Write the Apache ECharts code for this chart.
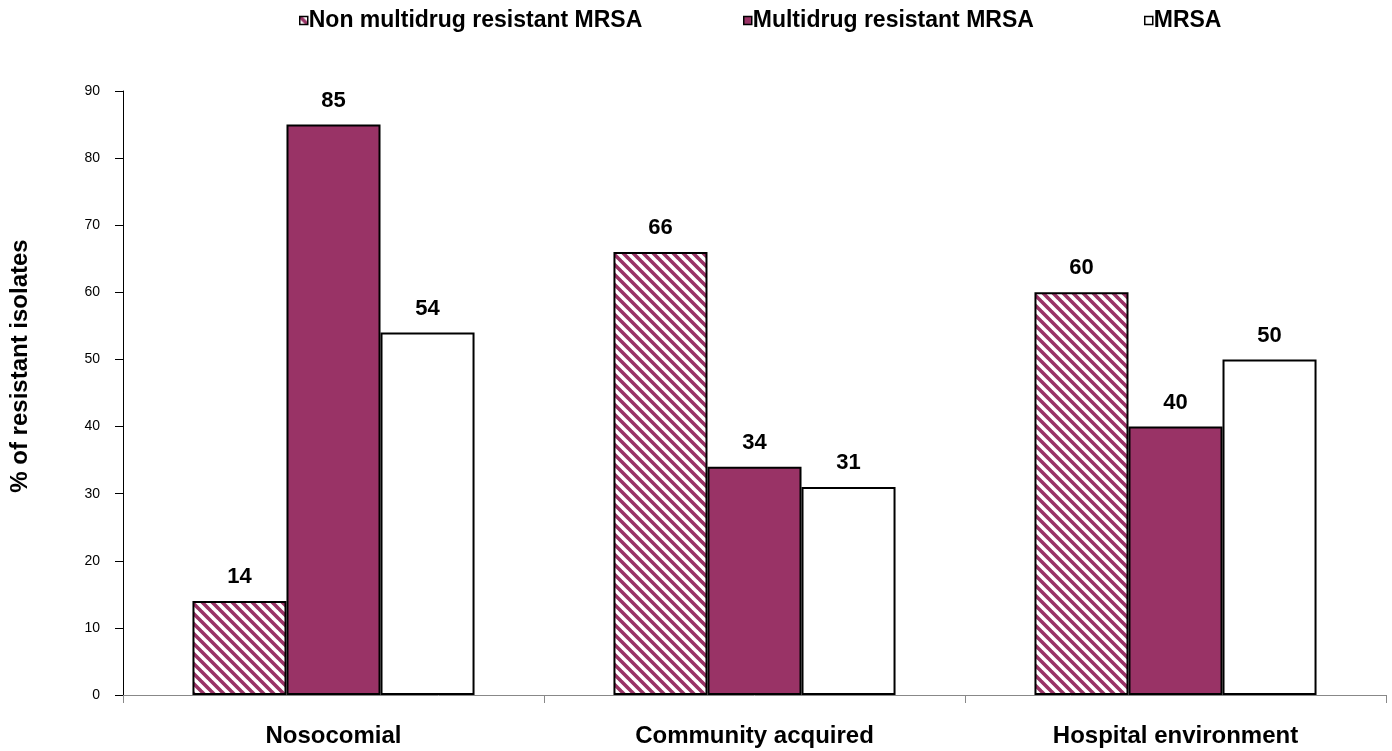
<!DOCTYPE html>
<html><head><meta charset="utf-8">
<script src="https://cdn.jsdelivr.net/npm/echarts@6/dist/echarts.min.js"></script>
<style>html,body{margin:0;padding:0;background:#fff}#c{width:1392px;height:751px}</style>
</head><body><div id="c"></div>
<script>
const categories = ['Nosocomial', 'Community acquired', 'Hospital environment'];
const seriesNames = ['Non multidrug resistant MRSA', 'Multidrug resistant MRSA', 'MRSA'];
const nonMultidrug = [14, 66, 60];
const multidrug = [85, 34, 40];
const mrsa = [54, 31, 50];
const yTicks = [0, 10, 20, 30, 40, 50, 60, 70, 80, 90];

const PURPLE = '#993366';
function hatch() {
  const s = 10;
  const cv = document.createElement('canvas');
  cv.width = s; cv.height = s;
  const g = cv.getContext('2d');
  g.fillStyle = '#fff'; g.fillRect(0, 0, s, s);
  g.strokeStyle = PURPLE; g.lineWidth = 3.6;
  g.beginPath();
  for (let k = -1; k <= 1; k++) {
    g.moveTo(k * s - 1, -1); g.lineTo(k * s + s + 1, s + 1);
  }
  g.stroke();
  return cv;
}
const pattern = { image: hatch(), repeat: 'repeat' };

const font = 'Liberation Sans, Arial, sans-serif';
const labelStyle = { show: true, position: 'top', distance: 13, fontFamily: font, fontWeight: 'bold', fontSize: 22, color: '#000' };
const legendBase = { top: 4, icon: 'rect', itemWidth: 8, itemHeight: 8, itemGap: 2,
  itemStyle: { borderWidth: 1.5, borderColor: '#000' },
  textStyle: { fontFamily: font, fontWeight: 'bold', fontSize: 23, color: '#000', padding: [0, 0, 0, -4] }, selectedMode: false };

const chart = echarts.init(document.getElementById('c'), null, { renderer: 'canvas' });
chart.setOption({
  backgroundColor: '#fff',
  animation: false,
  legend: [
    Object.assign({ left: 294, data: [seriesNames[0]] }, legendBase),
    Object.assign({ left: 738, data: [seriesNames[1]] }, legendBase),
    Object.assign({ left: 1139, data: [seriesNames[2]] }, legendBase)
  ],
  grid: { left: 123, right: 6, top: 91, bottom: 56 },
  xAxis: {
    type: 'category', data: categories,
    axisLine: { lineStyle: { color: '#888', width: 1 } },
    axisTick: { show: true, length: 8, lineStyle: { color: '#888' } },
    axisLabel: { margin: 29, fontFamily: font, fontWeight: 'bold', fontSize: 24, color: '#000' }
  },
  yAxis: {
    type: 'value', min: 0, max: 90, interval: 10,
    name: '% of resistant isolates', nameLocation: 'middle', nameGap: 91,
    nameTextStyle: { fontFamily: font, fontWeight: 'bold', fontSize: 24, color: '#000', padding: [0, 0, 0, 54] },
    axisLine: { show: true, lineStyle: { color: '#000', width: 1 } },
    axisTick: { show: true, length: 8, lineStyle: { color: '#000' } },
    splitLine: { show: false },
    axisLabel: { margin: 23, fontFamily: font, fontSize: 14, color: '#000',
      formatter: v => yTicks.includes(v) ? String(v) : '' }
  },
  series: [
    { name: seriesNames[0], type: 'bar', data: nonMultidrug, barGap: '0%', barCategoryGap: '33%',
      itemStyle: { color: pattern, borderColor: '#000', borderWidth: 2 }, label: labelStyle },
    { name: seriesNames[1], type: 'bar', data: multidrug,
      itemStyle: { color: PURPLE, borderColor: '#000', borderWidth: 2 }, label: labelStyle },
    { name: seriesNames[2], type: 'bar', data: mrsa,
      itemStyle: { color: '#fff', borderColor: '#000', borderWidth: 2 }, label: labelStyle }
  ]
});
</script></body></html>
